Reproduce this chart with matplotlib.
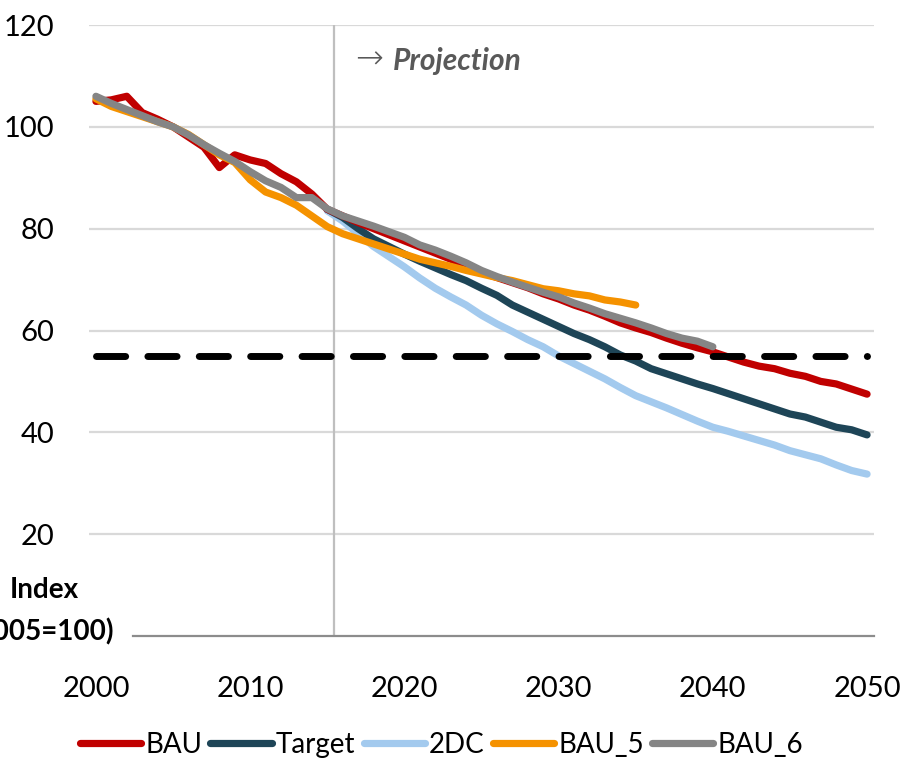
import matplotlib
matplotlib.use("Agg")
import matplotlib.pyplot as plt
import numpy as np

# emissions index, 2005 = 100
years = list(range(2000, 2051))

bau = [105, 105.3, 106, 102.8, 101.5, 100, 98, 96, 92, 94.5,
       93.5, 92.8, 90.8, 89.2, 86.8, 83.8, 82.5, 81.2, 80, 78.8,
       77.6, 76.4, 75.2, 74, 72.8, 71.4, 70.4, 69.4, 68.4, 67.2,
       66.2, 65, 64, 62.8, 61.5, 60.5, 59.6, 58.5, 57.5, 56.6,
       55.8, 54.8, 53.8, 53, 52.5, 51.6, 51, 50, 49.5, 48.5, 47.5]

# scenarios starting in 2015
proj_years = list(range(2015, 2051))
target = [83.8, 82.2, 80, 78, 76.5, 75, 73.6, 72.3, 71, 69.8,
          68.3, 66.9, 65, 63.6, 62.2, 60.8, 59.4, 58.2, 56.8, 55.2,
          54, 52.5, 51.5, 50.5, 49.5, 48.6, 47.6, 46.6, 45.6, 44.6,
          43.6, 43, 42, 41, 40.5, 39.5]
dc2 = [83.5, 81.5, 79, 76.5, 74.5, 72.5, 70.3, 68.3, 66.6, 65,
       63, 61.3, 59.8, 58.2, 56.8, 55, 53.5, 52, 50.5, 48.8,
       47.2, 46, 44.8, 43.5, 42.2, 41, 40.2, 39.3, 38.4, 37.5,
       36.4, 35.6, 34.8, 33.6, 32.5, 31.8]

bau5_years = list(range(2000, 2036))
bau5 = [105.5, 104, 103, 102, 101, 100, 98.5, 96.5, 94.5, 93,
        89.6, 87.2, 86.1, 84.6, 82.5, 80.4, 79, 78, 77, 76,
        75, 74, 73.3, 72.6, 71.8, 71.1, 70.4, 69.8, 69, 68.2,
        67.8, 67.2, 66.8, 66, 65.6, 65]

bau6_years = list(range(2000, 2041))
bau6 = [106, 104.6, 103.4, 102.2, 101, 100, 98.4, 96.5, 94.8, 93.2,
        91.2, 89.4, 88.1, 86.1, 86.1, 83.9, 82.5, 81.5, 80.5, 79.4,
        78.3, 76.8, 75.8, 74.6, 73.3, 71.8, 70.6, 69.5, 68.5, 67.5,
        66.6, 65.4, 64.4, 63.3, 62.4, 61.5, 60.5, 59.4, 58.5, 57.9, 56.8]

target_level = 55
proj_start = 2015.44

xticks = [2000, 2010, 2020, 2030, 2040, 2050]
yticks = [20, 40, 60, 80, 100, 120]

plt.rcParams['font.family'] = ['Lato', 'DejaVu Sans']

W, H = 902, 764
fig = plt.figure(figsize=(W / 100, H / 100), dpi=100)
ax = fig.add_axes([89 / W, 1 - 636 / H, (874 - 89) / W, (636 - 25) / H])

lw = 5.2
kw = dict(lw=lw, solid_capstyle='round', solid_joinstyle='round')
ax.plot(proj_years, dc2, color='#A3CAEE', label='2DC', zorder=3, **kw)
ax.plot(proj_years, target, color='#1E4557', label='Target', zorder=4, **kw)
ax.plot(years, bau, color='#C00000', label='BAU', zorder=5, **kw)
ax.plot(bau5_years, bau5, color='#F59200', label='BAU_5', zorder=6, **kw)
ax.plot(bau6_years, bau6, color='#858585', label='BAU_6', zorder=7, **kw)

# the 55 line
ax.plot([years[0], years[-1]], [target_level, target_level], color='black',
        lw=5, dashes=(4.2, 3.2), dash_capstyle='round', zorder=8)

ax.axvline(proj_start, color='#bfbfbf', lw=1.6, zorder=2)

ax.set_xlim(1999.55, 2050.45)
ax.set_ylim(0, 120)
ax.set_xticks(xticks)
ax.set_yticks(yticks)
ax.grid(axis='y', color='#d9d9d9', lw=1.6, zorder=0)
ax.set_axisbelow(True)
for s in ['top', 'right', 'left']:
    ax.spines[s].set_visible(False)
ax.spines['bottom'].set_color('#8c8c8c')
ax.spines['bottom'].set_linewidth(1.6)
ax.spines['bottom'].set_bounds(2002.4, 2050.45)
ax.tick_params(axis='both', length=0, labelsize=21)
ax.tick_params(axis='x', pad=29)
ax.tick_params(axis='y', pad=25)

ax.text(2016.8, 113.3, '\u2192', fontsize=24, color='#595959', va='center',
        family='DejaVu Sans', fontweight='light')
ax.text(2019.26, 113, 'Projection', fontsize=21.5, color='#595959', va='center',
        fontweight='bold', fontstyle='italic')

fig.text(44 / W, 1 - 590 / H, 'Index', fontsize=20, fontweight='bold',
         ha='center', va='center')
fig.text(113 / W, 1 - 632 / H, '(2005=100)', fontsize=20, fontweight='bold',
         ha='right', va='center')

handles, labels = ax.get_legend_handles_labels()
order = ['BAU', 'Target', '2DC', 'BAU_5', 'BAU_6']
hl = dict(zip(labels, handles))
fig.legend([hl[k] for k in order], order, loc='center', ncol=5,
           bbox_to_anchor=(441.5 / W, 1 - 745 / H), frameon=False, fontsize=20,
           handlelength=2.2, handletextpad=0.15, columnspacing=0.3,
           borderpad=0)

fig.savefig('out.png', dpi=100)
